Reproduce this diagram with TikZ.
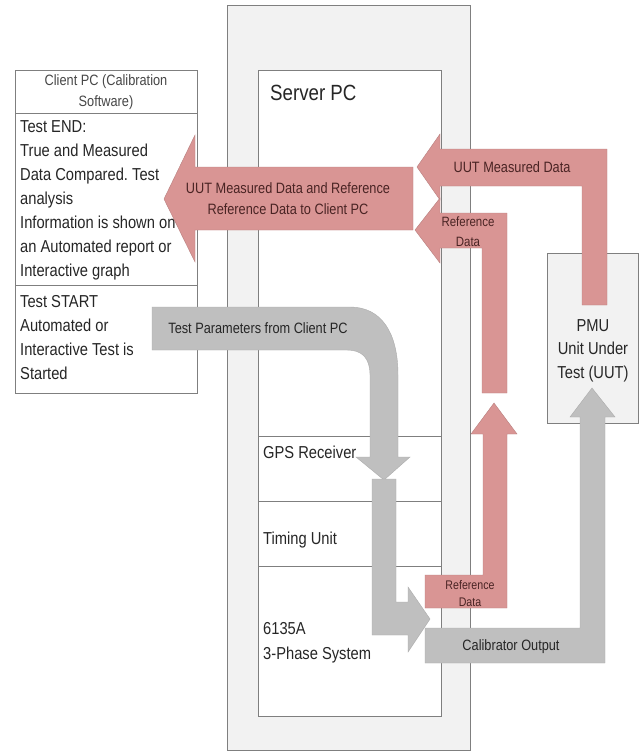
\documentclass[tikz,border=0pt]{standalone}
\usepackage{fontspec}
\setmainfont[FakeStretch=0.85]{Liberation Sans}
\usepackage{tikz}
\usetikzlibrary{positioning}
\frenchspacing

\definecolor{srvgray}{HTML}{F2F2F2}
\definecolor{linegray}{HTML}{7F7F7F}
\definecolor{arrred}{HTML}{D99594}
\definecolor{arrgray}{HTML}{BFBFBF}
\definecolor{txtdark}{HTML}{262626}
\definecolor{txtred}{HTML}{4A2424}

\tikzset{
	box/.style={draw=linegray, line width=0.9pt, inner sep=0pt, outer sep=0pt, anchor=north west},
	redarrow/.style={fill=arrred, draw=arrred!85!black, line width=0.4pt},
	grayarrow/.style={fill=arrgray, draw=arrgray!90!black, line width=0.4pt},
	bigtxt/.style={font=\fontsize{17.3}{24}\selectfont, text=txtdark, inner sep=0pt},
	midtxt/.style={font=\fontsize{15}{21}\selectfont, inner sep=0pt, align=center, anchor=north},
	smalltxt/.style={font=\fontsize{13.5}{20}\selectfont, text=txtred, inner sep=0pt, align=center, anchor=north}
}

\begin{document}
\begin{tikzpicture}[x=1pt, y=-1pt]
		%\draw[gray,step=50] (0,0) grid (639,752);
		\useasboundingbox (0,0) rectangle (639,752);
		\node[box, fill=srvgray, minimum width=243pt, minimum height=745pt] (server) at (227,5) {};
		\node[box, fill=white, minimum width=183pt, minimum height=366pt] (serverpc) at (258,70) {};
		\node[box, fill=white, minimum width=183pt, minimum height=65pt] (gps) at (258,436) {};
		\node[box, fill=white, minimum width=183pt, minimum height=65pt] (timing) at (258,501) {};
		\node[box, fill=white, minimum width=183pt, minimum height=150pt] (system) at (258,566) {};
		\node[box, fill=white, minimum width=182pt, minimum height=43pt] (clienthead) at (15,70) {};
		\node[box, fill=white, minimum width=182pt, minimum height=172pt] (testend) at (15,113) {};
		\node[box, fill=white, minimum width=182pt, minimum height=108pt] (teststart) at (15,285) {};
		\node[box, fill=srvgray, minimum width=91pt, minimum height=170pt] (pmu) at (547,253) {};

		\node[midtxt, text=txtdark!85] (clientlbl) at (106,74.6) {Client PC (Calibration\\Software)};
		\node[bigtxt, align=left, anchor=north west] (endlbl) at (20,120) {Test END:\\True and Measured\\Data Compared. Test\\analysis\\Information is shown on\\an Automated report or\\Interactive graph};
		\node[bigtxt, align=left, anchor=north west] (startlbl) at (20,295) {Test START\\Automated or\\Interactive Test is\\Started};
		\node[bigtxt, font=\fontsize{22}{26}\selectfont, anchor=north west] (serverlbl) at (270,85) {Server PC};
		\node[bigtxt, anchor=north west] (gpslbl) at (263,446) {GPS Receiver};
		\node[bigtxt, anchor=north west] (timinglbl) at (263,532) {Timing Unit};
		\node[bigtxt, font=\fontsize{17.3}{25}\selectfont, align=left, anchor=north west] (systemlbl) at (263,622) {6135A\\3-Phase System};
		\node[bigtxt, font=\fontsize{17.3}{23.5}\selectfont, align=center, anchor=north] (pmulbl) at (593,319) {PMU\\Unit Under\\Test (UUT)};

		\draw[redarrow] (413,167) -- (195,167) -- (195,135) -- (164,199) -- (195,262) -- (195,230) -- (413,230) -- cycle;
		\draw[redarrow] (607,305) -- (607,149) -- (440,149) -- (440,134) -- (417,167) -- (440,200) -- (440,186) -- (582,186) -- (582,305) -- cycle;
		\draw[redarrow] (507,393) -- (507,213) -- (440,213) -- (440,198) -- (415,230) -- (440,263) -- (440,248) -- (482,248) -- (482,393) -- cycle;
		\draw[redarrow] (425,575) -- (483,575) -- (483,434) -- (471,434) -- (494,403) -- (517,434) -- (507,434) -- (507,608) -- (425,608) -- cycle;
		\draw[grayarrow] (152,307) -- (350,307) .. controls (381,307) and (398,332) .. (398,375) -- (398,457) -- (410,457) -- (384,480) -- (356,457) -- (370,457) -- (370,375) .. controls (370,358) and (362,350) .. (347,350) -- (152,350) -- cycle;
		\draw[grayarrow] (372,479) -- (396,479) -- (396,602) -- (408,602) -- (408,587) -- (430,619) -- (408,652) -- (408,635) -- (372,635) -- cycle;
		\draw[grayarrow] (425,628) -- (580,628) -- (580,417) -- (570,417) -- (592,388) -- (615,417) -- (605,417) -- (605,663) -- (425,663) -- cycle;

		\node[midtxt, text=txtred] (toclientlbl) at (288,182.6) {UUT Measured Data and Reference\\Reference Data to Client PC};
		\node[midtxt, text=txtred] (measuredlbl) at (512,161.6) {UUT Measured Data};
		\node[midtxt, text=txtdark] (paramlbl) at (258,322.6) {Test Parameters from Client PC};
		\node[midtxt, text=txtdark] (outputlbl) at (511,639.6) {Calibrator Output};
		\node[smalltxt] (refuplbl) at (468,217) {Reference\\Data};
		\node[smalltxt, font=\fontsize{12.5}{17}\selectfont] (reflowlbl) at (470,580.5) {Reference\\Data};
	\end{tikzpicture}
\end{document}
